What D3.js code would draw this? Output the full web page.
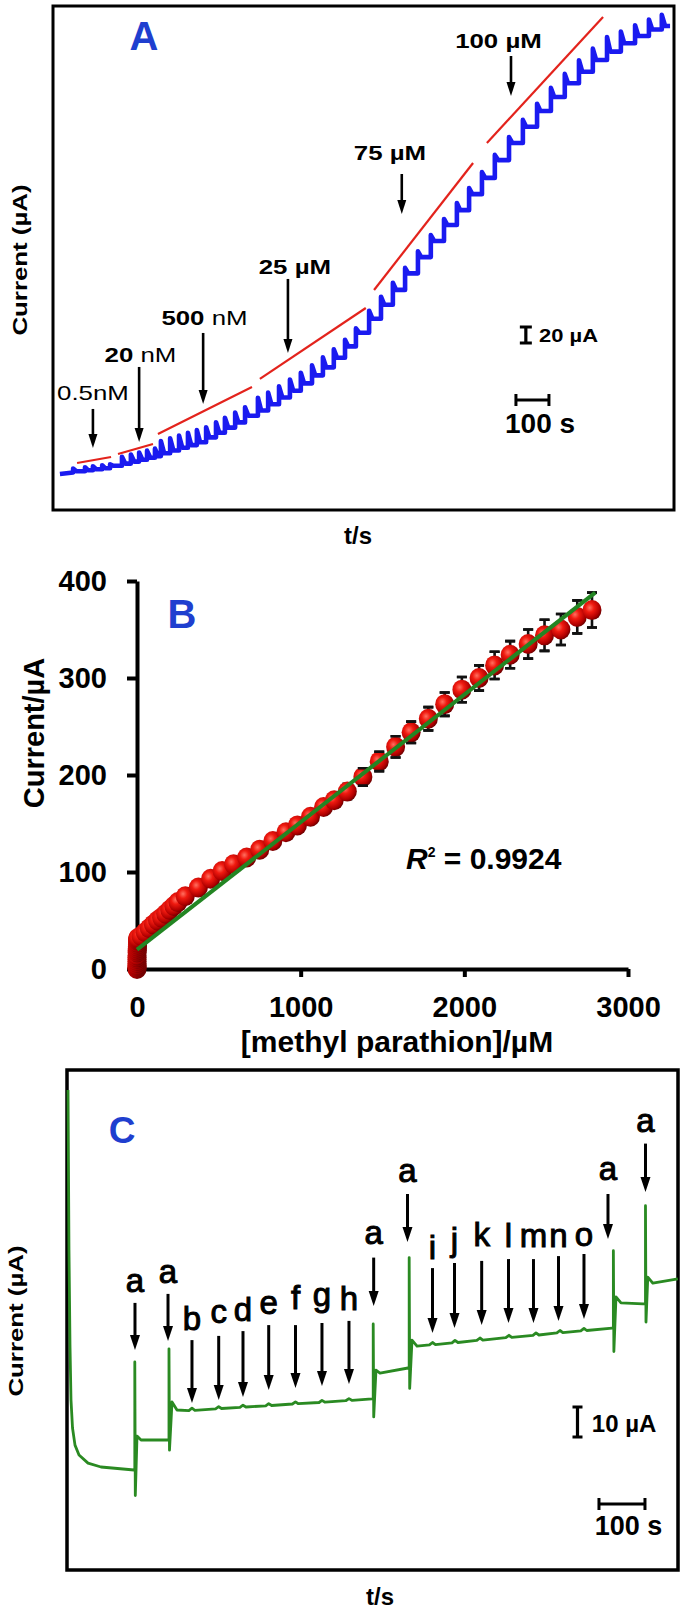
<!DOCTYPE html>
<html><head><meta charset="utf-8">
<script src="https://cdn.jsdelivr.net/npm/d3@7"></script>
<style>body{margin:0;background:#fff}svg{display:block}</style>
</head><body><svg id="chart"></svg>
<script>
// ---------------- Panel A: amperometric trace (time / s, current / µA) ----------------
const stepTimesA = [61,97,121,149,173, 209,236,261,285,309, 327,355,382,409,436,464,494,521,552,582,
  621,652,685,718,751,785,818,851,885,918, 958,994,1030,1067,1106,1145,1185,1224,1261,1300,
  1339,1382,1424,1467,1509,1551,1594,1636,1679,1721,1764,1806,1845];
const stepLevelsA = [1.9,3.5,4.6,6.0,7.1, 10.3,13.0,15.5,17.9,20.4, 22.4,25.9,29.3,32.8,36.1,39.6,45.8,51.6,58.0,64.5,
  72.9,79.3,87.1,95.6,104.1,113.3,123.3,133.3,145.3,159.5, 176.6,194.1,211.6,230.1,250.8,271.1,291.3,311.3,329.8,349.8,
  370.1,392.4,413.8,434.1,453.8,471.3,488.4,502.9,517.5,528.0,538.5,547.5,555.6, 560];
const stepPeaksA = [6.9,8.5,9.6,11.0,12.1, 21.6,24.3,26.8,29.2,31.7, 41.2,44.7,48.1,51.6,54.9,58.4,64.6,70.4,76.8,83.3,
  95.4,101.8,109.6,118.1,126.6,135.8,145.8,155.8,167.8,182.0, 204.1,221.6,239.1,257.6,278.3,298.6,318.8,338.8,357.3,377.3,
  398.9,421.2,442.6,462.9,482.6,500.1,517.2,531.7,546.3,553.0,561.0,568.0,574.0];
const traceStartA = [21, 0];
const traceEndTimeA = 1870;
const redStartT = [73,197,318,627,973,1315];
const redStartI = [13.8,25,50,118.8,230,413.8];
const redEndT = [176,303,603,948,1273,1667];
const redEndI = [21.3,37.5,108.8,207.5,388.8,571.3];
const arrowNumA = ["","20","500","25 µM","75 µM","100 µM"];
const arrowUnitA = ["0.5nM"," nM"," nM","","",""];
const arrowTimeA = [121,261,455,712,1057,1388];
const arrowFromA = [81.3,133.8,176.3,243.8,375,522.5];
const arrowToA = [32.5,40,87.5,151.3,325,472.5];
const labelTimeA = [121,265,459,733,1021,1350];
const labelIA = [92.5,140,186.3,249.4,392.5,532.5];

// ---------------- Panel B: calibration ----------------
const concB = [0.0005,0.001,0.0015,0.002,0.0025,0.0225,0.0425,0.0625,0.0825,0.1025,0.6,1.1,1.6,2.1,2.6,3.1,3.6,4.1,4.6,5.1,
  25,50,75,100,125,150,175,200,225,250,
  295,375,450,520,590,670,750,830,910,980,
  1060,1140,1205,1285,1380,1480,1580,1675,1780,1880,1985,2090,2185,2280,2390,2490,2590,2690,2780];
const currentB = [0,1,2,3,4,6,8,10,12,14,17,19,21,23,25,27,29,30,31,32,
  34,38,42,46,50,53,57,61,65,69,
  75,84,93,101,108,115,123,132,141,148,
  157,167,174,183,198,214,229,244,258,273,288,300,313,324,335,344,350,363,370];
const errorB = [1,1,1,1,1,1,1,1,1,1,1,1,1,1,1,1,1,1,1,1,
  1,1,1,1,1,1,1,1,1,1,
  1,1,1,2,2,2,3,3,3,4,
  5,6,7,8,9,10,11,11,12,12,13,13,14,14,15,16,16,17,18];
const fitX = [0, 2800];
const fitY = [20, 388];
const xTicksB = [0,1000,2000,3000];
const yTicksB = [0,100,200,300,400];

// ---------------- Panel C: interference trace ----------------
const traceCT = [2.2,4.3,6.5,8.7,12.0,17.4,26.1,45.7,73.9,145.7,
  147.4,147.4,148.5,152.2,160.9,219.6,
  221.7,221.7,222.8,228.3,239.1,
  265,271.7,278,323,329.8,336,376,382.6,389,432,438.5,445,490,496.7,503,548,554.3,561,606,613,620,663,
  665.7,665.7,666.8,671.7,680.4,741.3,
  743.9,743.9,745,750,760.9,
  788,794.6,801,837,843.5,850,891,897.8,904,954,960.9,967,1013,1019.6,1026,1065,1071.7,1078,1117,1123.9,1130,1185,
  1187.8,1187.8,1188.9,1193.5,1204.3,1252.2,
  1257.6,1257.6,1258.7,1262.6,1273.5,1328];
const traceCI = [126.7,73.3,41.7,23.3,14.0,8.3,5.0,2.3,1.0,0,
  0,36.0,-8.5,11.3,10.0,10.0,
  10.0,40.4,6.6,22.7,20.0,
  19.8,20.6,19.9,20.4,21.1,20.5,20.9,21.6,21.0,21.4,22.1,21.5,22.0,22.7,22.1,22.5,23.2,22.6,23.1,23.8,23.2,23.7,
  23.7,48.7,17.7,33.3,32.3,34.0,
  34.0,70.8,27.2,43.3,41.3,
  41.7,42.5,41.8,42.4,43.2,42.5,43.2,44.0,43.3,44.1,44.9,44.2,44.9,45.7,45.0,45.7,46.5,45.8,46.4,47.2,46.5,47.3,
  47.3,73.1,39.5,57.7,55.7,55.4,
  55.4,88.1,49.3,64.3,62.3,63.7];
const lettersC = ["a","a","b","c","d","e","f","g","h","a","a","i","j","k","l","m","n","o","a","a"];
const arrowTimeC = [147.8,219.6,271.7,329.8,382.6,438.5,496.7,554.3,613,666.7,740.2,794.6,842.4,901.5,959.8,1014.1,1068.5,1123.9,1176.1,1257.6];
const arrowFromC = [55.7,58.7,43.3,44.7,46.3,48.3,48.3,49,49.7,70.8,92,67.3,69,69.7,70.3,70.3,71.3,72,92,108.8];
const arrowToC = [40,43,22.3,23.3,24.3,26.7,27.3,28,28.7,54.7,76,45.7,47.3,48.3,49,49,49.7,50.3,77,92.7];
const labelIC = [59.3,62.3,46.7,49,49.7,52,53.7,54.7,53.3,75.3,96,70.3,73,74.7,74.3,74.3,74.3,74.7,96.7,112.7];

// ---------------- drawing ----------------
const W = 685, H = 1613;
const FONT = '"Liberation Sans", Arial, Helvetica, sans-serif';
const svg = d3.select('#chart').attr('width', W).attr('height', H).style('font-family', FONT);

function txt(g, x, y, parts, o) {
  const t = g.append('text')
    .attr('transform', `translate(${x},${y}) rotate(${o.rot || 0}) scale(${o.sx || 1},1)`)
    .attr('text-anchor', o.anchor || 'middle')
    .attr('font-size', o.size).attr('fill', o.fill || '#000').style('font-family', FONT);
  parts.forEach(p => {
    const s = t.append('tspan').text(p[0]).attr('font-weight', p[1] || 'normal');
    if (p[2]) s.attr('font-style', p[2]);
  });
  if (o.stroke) t.attr('stroke', o.fill || '#000').attr('stroke-width', o.stroke);
  return t;
}
function arrow(g, x, y1, y2, hl, hw, sw) {
  g.append('line').attr('x1', x).attr('x2', x).attr('y1', y1).attr('y2', y2 - hl + 1)
    .attr('stroke', '#000').attr('stroke-width', sw);
  g.append('path').attr('d', `M${x - hw / 2},${y2 - hl}L${x + hw / 2},${y2 - hl}L${x},${y2}Z`).attr('fill', '#000');
}
function hbar(g, x1, x2, y, tick, sw) {
  g.append('path').attr('d', `M${x1},${y}H${x2}M${x1},${y - tick}V${y + tick}M${x2},${y - tick}V${y + tick}`)
    .attr('stroke', '#000').attr('stroke-width', sw).attr('fill', 'none');
}
function vbar(g, x, y1, y2, cap, sw) {
  g.append('path').attr('d', `M${x},${y1}V${y2}M${x - cap / 2},${y1}H${x + cap / 2}M${x - cap / 2},${y2}H${x + cap / 2}`)
    .attr('stroke', '#000').attr('stroke-width', sw).attr('fill', 'none');
}

// ===== Panel A =====
const gA = svg.append('g');
const xA = d3.scaleLinear().domain([0, 1882]).range([53, 674]);
const yA = d3.scaleLinear().domain([-45, 585]).range([510, 6]);
gA.append('rect').attr('x', 53).attr('y', 6).attr('width', 621).attr('height', 504)
  .attr('fill', 'none').attr('stroke', '#000').attr('stroke-width', 3);

const ptsA = [traceStartA.slice()];
stepTimesA.forEach((t, i) => {
  ptsA.push([t, stepLevelsA[i]], [t, stepPeaksA[i]], [t + 10, stepLevelsA[i + 1]]);
});
ptsA.push([traceEndTimeA, stepLevelsA[stepLevelsA.length - 1]]);
const lineA = d3.line().x(d => xA(d[0])).y(d => yA(d[1]));
gA.append('path').attr('d', lineA(ptsA)).attr('fill', 'none').attr('stroke', '#1a1af0')
  .attr('stroke-width', 4.6).attr('stroke-linejoin', 'round');

redStartT.forEach((t, i) => {
  gA.append('line').attr('x1', xA(t)).attr('y1', yA(redStartI[i])).attr('x2', xA(redEndT[i])).attr('y2', yA(redEndI[i]))
    .attr('stroke', '#e3231c').attr('stroke-width', 2.2);
});

arrowTimeA.forEach((t, i) => {
  arrow(gA, xA(t), yA(arrowFromA[i]), yA(arrowToA[i]), 14, 9, 2.6);
  const parts = [];
  if (arrowNumA[i]) parts.push([arrowNumA[i], 'bold']);
  if (arrowUnitA[i]) parts.push([arrowUnitA[i], 'normal']);
  txt(gA, xA(labelTimeA[i]), yA(labelIA[i]), parts, { size: 21, sx: 1.23 });
});
// scale bars A
vbar(gA, xA(1433), yA(183.75), yA(163.75), 12, 3.2);
txt(gA, xA(1473), yA(165), [['20 µA', 'bold']], { size: 18, sx: 1.22, anchor: 'start' });
hbar(gA, xA(1403), xA(1503), yA(92.5), 6, 3);
txt(gA, xA(1476), yA(51.3), [['100 s', 'bold']], { size: 28 });
txt(gA, 144, 50, [['A', 'bold']], { size: 40, fill: '#1f3fcf' });
txt(gA, 27, 260, [['Current (µA)', 'bold']], { size: 21, sx: 1.23, rot: -90 });
txt(gA, 358, 544, [['t/s', 'bold']], { size: 24 });

// ===== Panel B =====
const gB = svg.append('g');
const xB = d3.scaleLinear().domain([0, 3000]).range([137, 628]);
const yB = d3.scaleLinear().domain([0, 400]).range([969, 581]);
const defs = svg.append('defs');
const grad = defs.append('radialGradient').attr('id', 'sph').attr('cx', '38%').attr('cy', '38%').attr('r', '65%');
grad.append('stop').attr('offset', '0%').attr('stop-color', '#ff7060');
grad.append('stop').attr('offset', '35%').attr('stop-color', '#f01a10');
grad.append('stop').attr('offset', '80%').attr('stop-color', '#b00000');
grad.append('stop').attr('offset', '100%').attr('stop-color', '#6e0000');

const ax = gB.append('g').attr('transform', 'translate(0,969)')
  .call(d3.axisBottom(xB).tickValues(xTicksB).tickFormat(d3.format('d')).tickSize(8).tickSizeOuter(0).tickPadding(19));
const ay = gB.append('g').attr('transform', 'translate(137,0)')
  .call(d3.axisLeft(yB).tickValues(yTicksB).tickFormat(d3.format('d')).tickSize(10).tickSizeOuter(0).tickPadding(20));
[ax, ay].forEach(a => {
  a.select('.domain').attr('stroke-width', 4).attr('stroke', '#000');
  a.selectAll('.tick line').attr('stroke-width', 4).attr('stroke', '#000');
  a.selectAll('.tick text').attr('font-size', 29).attr('font-weight', 'bold').attr('fill', '#000').style('font-family', FONT);
});
ax.selectAll('.tick').filter(d => d === 0).select('line').remove();

// error bars
const gErr = gB.append('g');
concB.forEach((c, i) => {
  const x = xB(c), y1 = yB(currentB[i] + errorB[i]), y2 = yB(currentB[i] - errorB[i]);
  gErr.append('path').attr('d', `M${x},${y1}V${y2}M${x - 5},${y1}H${x + 5}M${x - 5},${y2}H${x + 5}`)
    .attr('stroke', '#111').attr('stroke-width', 2.6).attr('fill', 'none');
});
gB.append('g').selectAll('ellipse').data(concB).join('ellipse')
  .attr('cx', d => xB(d)).attr('cy', (d, i) => yB(currentB[i])).attr('rx', 9.5).attr('ry', 10)
  .attr('fill', 'url(#sph)');
concB.forEach((c, i) => {
  if (errorB[i] < 9) return;
  const x = xB(c), y1 = yB(currentB[i] + errorB[i]), y2 = yB(currentB[i] - errorB[i]);
  gB.append('path').attr('d', `M${x - 5},${y1}H${x + 5}M${x - 5},${y2}H${x + 5}`)
    .attr('stroke', '#111').attr('stroke-width', 2.6);
});
gB.append('line').attr('x1', xB(fitX[0])).attr('y1', yB(fitY[0])).attr('x2', xB(fitX[1])).attr('y2', yB(fitY[1]))
  .attr('stroke', '#238523').attr('stroke-width', 4);

txt(gB, 182, 628, [['B', 'bold']], { size: 40, fill: '#1f3fcf' });
txt(gB, 44, 733, [['Current/µA', 'bold']], { size: 29, rot: -90 });
txt(gB, 397, 1052, [['[methyl parathion]/µM', 'bold']], { size: 30 });
const r2 = gB.append('text').attr('x', 406).attr('y', 869).attr('font-size', 30).attr('font-weight', 'bold').style('font-family', FONT);
r2.append('tspan').text('R').attr('font-style', 'italic');
r2.append('tspan').text('2').attr('font-size', 14).attr('dy', -12);
r2.append('tspan').text(' = 0.9924').attr('dy', 12);

// ===== Panel C =====
const gC = svg.append('g');
const xC = d3.scaleLinear().domain([0, 1328.3]).range([67, 678]);
const yC = d3.scaleLinear().domain([-33.33, 133.33]).range([1570, 1070]);
gC.append('rect').attr('x', 67).attr('y', 1070).attr('width', 611).attr('height', 500)
  .attr('fill', 'none').attr('stroke', '#000').attr('stroke-width', 3.5);
const ptsC = traceCT.map((t, i) => [t, traceCI[i]]);
gC.append('path').attr('d', d3.line().x(d => xC(d[0])).y(d => yC(d[1]))(ptsC))
  .attr('fill', 'none').attr('stroke', '#2a8a22').attr('stroke-width', 2.8).attr('stroke-linejoin', 'round');

arrowTimeC.forEach((t, i) => {
  arrow(gC, xC(t), yC(arrowFromC[i]), yC(arrowToC[i]), 15, 10, 3);
  txt(gC, xC(t), yC(labelIC[i]), [[lettersC[i], 'normal']], { size: 33, stroke: 1 });
});
vbar(gC, xC(1109.8), yC(21), yC(11), 10, 3.2);
txt(gC, xC(1141), yC(12.7), [['10 µA', 'bold']], { size: 24, anchor: 'start' });
hbar(gC, xC(1156.5), xC(1256.5), yC(-11.3), 6, 3);
txt(gC, xC(1220.6), yC(-21.7), [['100 s', 'bold']], { size: 27 });
txt(gC, 122, 1143, [['C', 'bold']], { size: 37, fill: '#1f3fcf' });
txt(gC, 23, 1321, [['Current (µA)', 'bold']], { size: 21, sx: 1.23, rot: -90 });
txt(gC, 380, 1605, [['t/s', 'bold']], { size: 24 });
</script></body></html>
